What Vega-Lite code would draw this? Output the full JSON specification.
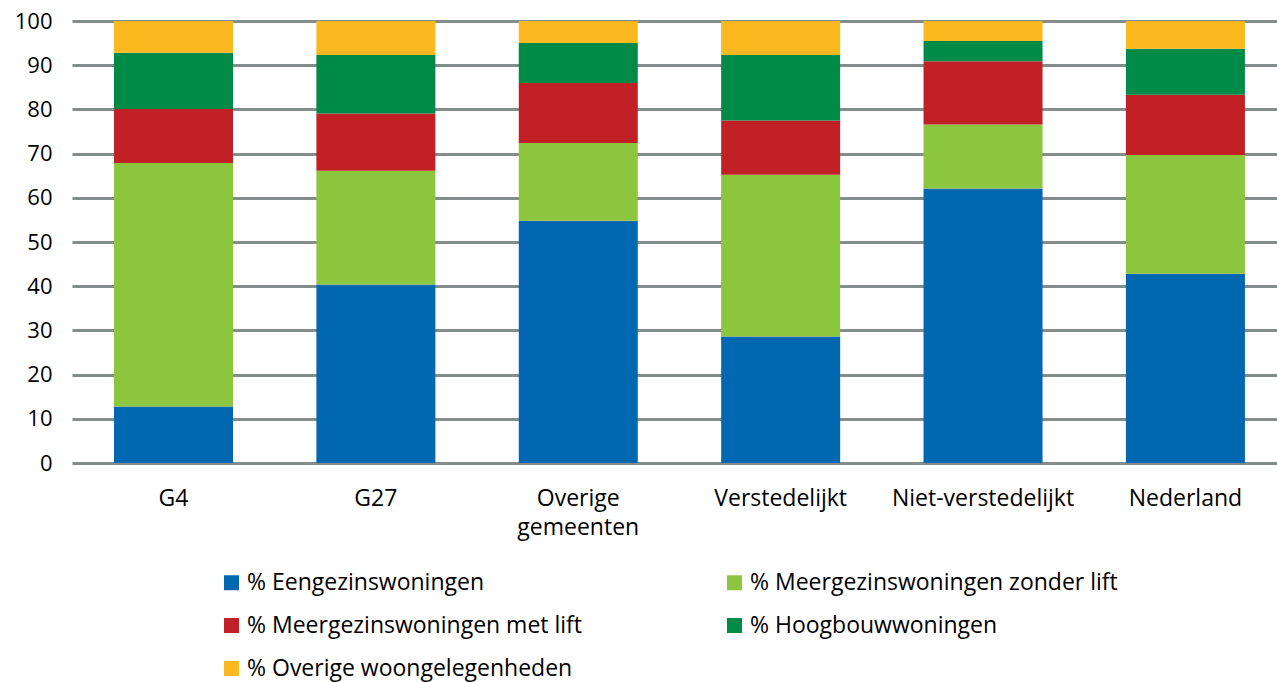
{
  "$schema": "https://vega.github.io/schema/vega-lite/v6.json",
  "autosize": "none",
  "width": 1205,
  "height": 442,
  "padding": {"top": 21, "left": 72, "right": 0, "bottom": 219},
  "background": "white",
  "config": {
    "font": "Open Sans",
    "view": {"stroke": null},
    "axis": {"labelFont": "Open Sans", "labelColor": "#000000"},
    "legend": {"labelFont": "Open Sans", "labelColor": "#000000"}
  },
  "data": {
    "values": [
      {"gebied": "G4", "type": "% Eengezinswoningen", "k": 1, "waarde": 12.8},
      {"gebied": "G4", "type": "% Meergezinswoningen zonder lift", "k": 2, "waarde": 55.1},
      {"gebied": "G4", "type": "% Meergezinswoningen met lift", "k": 3, "waarde": 12.2},
      {"gebied": "G4", "type": "% Hoogbouwwoningen", "k": 4, "waarde": 12.7},
      {"gebied": "G4", "type": "% Overige woongelegenheden", "k": 5, "waarde": 7.2},
      {"gebied": "G27", "type": "% Eengezinswoningen", "k": 1, "waarde": 40.4},
      {"gebied": "G27", "type": "% Meergezinswoningen zonder lift", "k": 2, "waarde": 25.7},
      {"gebied": "G27", "type": "% Meergezinswoningen met lift", "k": 3, "waarde": 13.0},
      {"gebied": "G27", "type": "% Hoogbouwwoningen", "k": 4, "waarde": 13.2},
      {"gebied": "G27", "type": "% Overige woongelegenheden", "k": 5, "waarde": 7.7},
      {"gebied": "Overige gemeenten", "type": "% Eengezinswoningen", "k": 1, "waarde": 54.8},
      {"gebied": "Overige gemeenten", "type": "% Meergezinswoningen zonder lift", "k": 2, "waarde": 17.6},
      {"gebied": "Overige gemeenten", "type": "% Meergezinswoningen met lift", "k": 3, "waarde": 13.6},
      {"gebied": "Overige gemeenten", "type": "% Hoogbouwwoningen", "k": 4, "waarde": 9.0},
      {"gebied": "Overige gemeenten", "type": "% Overige woongelegenheden", "k": 5, "waarde": 5.0},
      {"gebied": "Verstedelijkt", "type": "% Eengezinswoningen", "k": 1, "waarde": 28.6},
      {"gebied": "Verstedelijkt", "type": "% Meergezinswoningen zonder lift", "k": 2, "waarde": 36.6},
      {"gebied": "Verstedelijkt", "type": "% Meergezinswoningen met lift", "k": 3, "waarde": 12.3},
      {"gebied": "Verstedelijkt", "type": "% Hoogbouwwoningen", "k": 4, "waarde": 14.8},
      {"gebied": "Verstedelijkt", "type": "% Overige woongelegenheden", "k": 5, "waarde": 7.7},
      {"gebied": "Niet-verstedelijkt", "type": "% Eengezinswoningen", "k": 1, "waarde": 62.1},
      {"gebied": "Niet-verstedelijkt", "type": "% Meergezinswoningen zonder lift", "k": 2, "waarde": 14.5},
      {"gebied": "Niet-verstedelijkt", "type": "% Meergezinswoningen met lift", "k": 3, "waarde": 14.3},
      {"gebied": "Niet-verstedelijkt", "type": "% Hoogbouwwoningen", "k": 4, "waarde": 4.6},
      {"gebied": "Niet-verstedelijkt", "type": "% Overige woongelegenheden", "k": 5, "waarde": 4.5},
      {"gebied": "Nederland", "type": "% Eengezinswoningen", "k": 1, "waarde": 42.8},
      {"gebied": "Nederland", "type": "% Meergezinswoningen zonder lift", "k": 2, "waarde": 26.9},
      {"gebied": "Nederland", "type": "% Meergezinswoningen met lift", "k": 3, "waarde": 13.6},
      {"gebied": "Nederland", "type": "% Hoogbouwwoningen", "k": 4, "waarde": 10.4},
      {"gebied": "Nederland", "type": "% Overige woongelegenheden", "k": 5, "waarde": 6.3}
    ]
  },
  "mark": {"type": "bar"},
  "encoding": {
    "x": {
      "field": "gebied",
      "type": "nominal",
      "sort": ["G4", "G27", "Overige gemeenten", "Verstedelijkt", "Niet-verstedelijkt", "Nederland"],
      "scale": {"paddingInner": 0.412, "paddingOuter": 0.183, "align": 0.567},
      "axis": {
        "title": null,
        "labelAngle": 0,
        "domain": false,
        "ticks": false,
        "labelFontSize": 23,
        "labelPadding": 24,
        "labelLineHeight": 29,
        "labelLimit": 400,
        "labelBaseline": "top",
        "labelExpr": "datum.label == 'Overige gemeenten' ? ['Overige', 'gemeenten'] : datum.label"
      }
    },
    "y": {
      "field": "waarde",
      "type": "quantitative",
      "stack": "zero",
      "scale": {"domain": [0, 100], "nice": false},
      "axis": {
        "title": null,
        "values": [0, 10, 20, 30, 40, 50, 60, 70, 80, 90, 100],
        "domain": false,
        "ticks": false,
        "labelFontSize": 22,
        "labelPadding": 20,
        "gridColor": "#858c8c",
        "gridWidth": 3,
        "gridOpacity": 1
      }
    },
    "color": {
      "field": "type",
      "type": "nominal",
      "sort": ["% Eengezinswoningen", "% Meergezinswoningen zonder lift", "% Meergezinswoningen met lift", "% Hoogbouwwoningen", "% Overige woongelegenheden"],
      "scale": {
        "domain": ["% Eengezinswoningen", "% Meergezinswoningen zonder lift", "% Meergezinswoningen met lift", "% Hoogbouwwoningen", "% Overige woongelegenheden"],
        "range": ["#0067b0", "#8cc63f", "#c12026", "#008a47", "#fbb81f"]
      },
      "legend": {
        "title": null,
        "orient": "none",
        "direction": "horizontal",
        "legendX": 148,
        "legendY": 550,
        "columns": 2,
        "columnPadding": 140,
        "rowPadding": 19,
        "symbolType": "square",
        "symbolSize": 225,
        "symbolStrokeWidth": 0,
        "symbolOpacity": 1,
        "labelFontSize": 23,
        "labelOffset": 4,
        "labelLimit": 500
      }
    },
    "order": {"field": "k", "type": "quantitative", "sort": "ascending"}
  }
}
